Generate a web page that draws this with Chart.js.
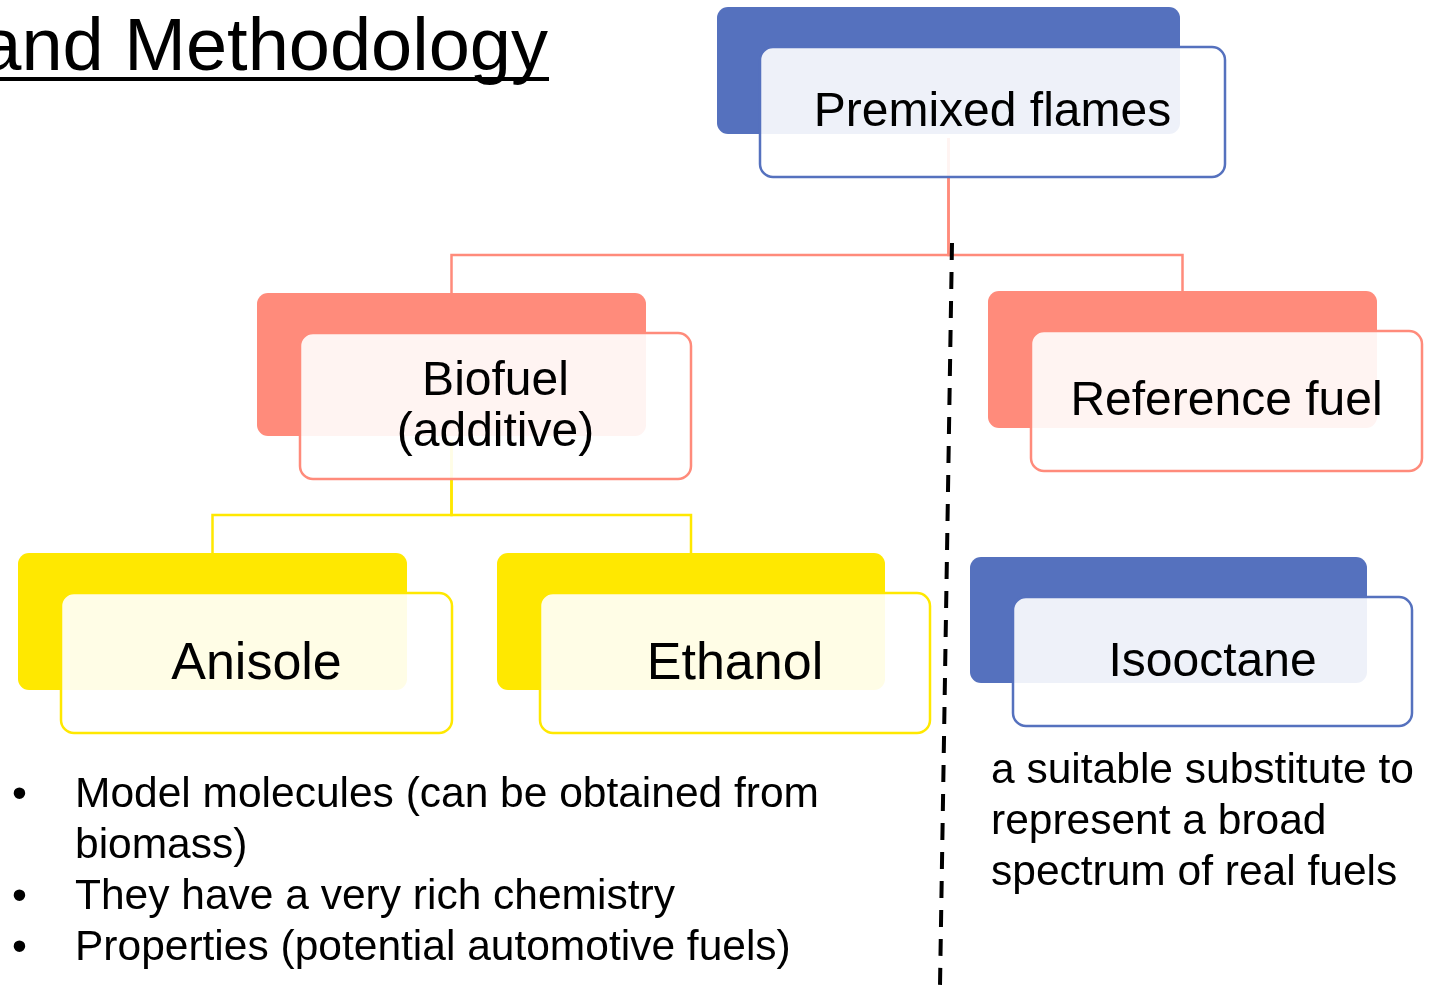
<!DOCTYPE html>
<html lang="en">
<head>
    <meta charset="UTF-8">
    <title>Premixed flames</title>
    <script src="https://cdn.jsdelivr.net/npm/chart.js"></script>
    <style>
        body {
            margin: 0;
            padding: 0;
            background-color: #ffffff;
            overflow: hidden;
        }
        #diagram {
            display: block;
        }
    </style>
</head>
<body>
    <canvas id="diagram" width="1432" height="986"></canvas>

    <script>
        // Diagram content
        const titleText = 'and Methodology';
        const nodeLabels = [['Premixed flames'], ['Biofuel', '(additive)'], ['Reference fuel'], ['Anisole'], ['Ethanol'], ['Isooctane']];
        const nodeParent = [-1, 0, 0, 1, 1, -1];
        const nodeX = [717, 257, 988, 18, 497, 970];   // left of the back card
        const nodeY = [7, 293, 291, 553, 553, 557];    // top of the back card
        const branchY = [255, 515];                    // elbow height under parent 0 and 1
        const dividerX = [952, 940];
        const dividerY = [243, 986];
        const bulletLines = ['Model molecules (can be obtained from', 'biomass)', 'They have a very rich chemistry', 'Properties (potential automotive fuels)'];
        const bulletMarks = [true, false, true, true];
        const noteLines = ['a suitable substitute to', 'represent a broad', 'spectrum of real fuels'];

        // Look of each card
        const BLUE = '#5571be', SALMON = '#ff8b7b', YELLOW = '#ffe800';
        const cardStyle = [
            { color: BLUE,   w: 463, h: 127, font: 48 },
            { color: SALMON, w: 389, h: 143, font: 48 },
            { color: SALMON, w: 389, h: 137, font: 48 },
            { color: YELLOW, w: 389, h: 137, font: 52 },
            { color: YELLOW, w: 388, h: 137, font: 52 },
            { color: BLUE,   w: 397, h: 126, font: 48 }
        ];
        const OFF_X = 43, OFF_Y = 40;
        const FONT = '"Liberation Sans", Arial, sans-serif';

        function roundRect(ctx, x, y, w, h, r) {
            ctx.beginPath();
            ctx.moveTo(x + r, y);
            ctx.arcTo(x + w, y, x + w, y + h, r);
            ctx.arcTo(x + w, y + h, x, y + h, r);
            ctx.arcTo(x, y + h, x, y, r);
            ctx.arcTo(x, y, x + w, y, r);
            ctx.closePath();
        }

        // spreads words over a given width, like a justified text box
        function drawJustified(ctx, text, x, y, width) {
            const words = text.split(' ');
            let total = 0;
            words.forEach(w => total += ctx.measureText(w).width);
            const gap = (width - total) / (words.length - 1);
            let cx = x;
            words.forEach(w => {
                ctx.fillText(w, cx, y);
                cx += ctx.measureText(w).width + gap;
            });
        }

        function cardRect(scales, i, front) {
            const s = cardStyle[i];
            const left = nodeX[i] + (front ? OFF_X : 0);
            const top = nodeY[i] + (front ? OFF_Y : 0);
            const w = s.w + (front ? 2 : 0);
            const h = s.h + (front ? 3 : 0);
            const x0 = scales.x.getPixelForValue(left);
            const y0 = scales.y.getPixelForValue(top);
            const x1 = scales.x.getPixelForValue(left + w);
            const y1 = scales.y.getPixelForValue(top + h);
            return { x: x0, y: y0, w: x1 - x0, h: y1 - y0 };
        }

        const cardsPlugin = {
            id: 'cards',
            beforeDatasetsDraw(chart) {
                const ctx = chart.ctx;
                ctx.save();
                nodeLabels.forEach((_, i) => {
                    const r = cardRect(chart.scales, i, false);
                    roundRect(ctx, r.x, r.y, r.w, r.h, 11);
                    ctx.fillStyle = cardStyle[i].color;
                    ctx.fill();
                });
                ctx.restore();
            },
            afterDatasetsDraw(chart) {
                const ctx = chart.ctx;
                ctx.save();
                nodeLabels.forEach((lines, i) => {
                    const r = cardRect(chart.scales, i, true);
                    roundRect(ctx, r.x, r.y, r.w, r.h, 13);
                    ctx.fillStyle = 'rgba(255,255,255,0.9)';
                    ctx.fill();
                    ctx.lineWidth = 2.5;
                    ctx.strokeStyle = cardStyle[i].color;
                    ctx.stroke();

                    const size = cardStyle[i].font;
                    ctx.font = size + 'px ' + FONT;
                    ctx.fillStyle = '#000000';
                    ctx.textAlign = 'center';
                    ctx.textBaseline = 'alphabetic';
                    const cx = r.x + r.w / 2;
                    const cy = r.y + r.h / 2 + 0.3 * size;
                    lines.forEach((line, k) => {
                        ctx.fillText(line, cx, cy + (k - (lines.length - 1) / 2) * 51);
                    });
                });

                // heading, cut at the left edge like the slide
                ctx.font = '74px ' + FONT;
                ctx.textAlign = 'right';
                ctx.fillStyle = '#000000';
                ctx.fillText(titleText, 548, 70);
                ctx.fillRect(0, 77, 549, 4);

                // bullet list
                ctx.font = '42.5px ' + FONT;
                ctx.textAlign = 'left';
                bulletLines.forEach((line, k) => {
                    const y = 807 + k * 51;
                    if (bulletMarks[k]) ctx.fillText('\u2022', 12, y);
                    if (k === 0) drawJustified(ctx, line, 75, y, 744);
                    else ctx.fillText(line, 75, y);
                });

                // note under Isooctane
                noteLines.forEach((line, k) => {
                    const y = 783 + k * 51;
                    if (k === 0) drawJustified(ctx, line, 991, y, 423);
                    else ctx.fillText(line, 991, y);
                });
                ctx.restore();
            }
        };

        // elbow connectors from parent card to each child card
        const connectorSets = [];
        nodeParent.forEach((p, i) => {
            if (p < 0) return;
            const px = nodeX[p] + cardStyle[p].w / 2;
            const py = nodeY[p] + cardStyle[p].h + 4;
            const cx = nodeX[i] + cardStyle[i].w / 2;
            connectorSets.push({
                data: [
                    { x: px, y: py },
                    { x: px, y: branchY[p] },
                    { x: cx, y: branchY[p] },
                    { x: cx, y: nodeY[i] }
                ],
                showLine: true,
                borderColor: cardStyle[i].color,
                borderWidth: 2.5,
                pointRadius: 0,
                tension: 0,
                order: 1
            });
        });

        const divider = {
            data: dividerX.map((x, k) => ({ x: x, y: dividerY[k] })),
            showLine: true,
            borderColor: '#000000',
            borderWidth: 4,
            borderDash: [17, 12],
            pointRadius: 0,
            tension: 0,
            order: 0
        };

        new Chart(document.getElementById('diagram'), {
            type: 'scatter',
            data: { datasets: [divider].concat(connectorSets) },
            options: {
                responsive: false,
                animation: false,
                events: [],
                layout: { padding: 0 },
                scales: {
                    x: { type: 'linear', min: 0, max: 1432, display: false },
                    y: { type: 'linear', min: 0, max: 986, reverse: true, display: false }
                },
                plugins: {
                    legend: { display: false },
                    tooltip: { enabled: false }
                }
            },
            plugins: [cardsPlugin]
        });
    </script>
</body>
</html>
